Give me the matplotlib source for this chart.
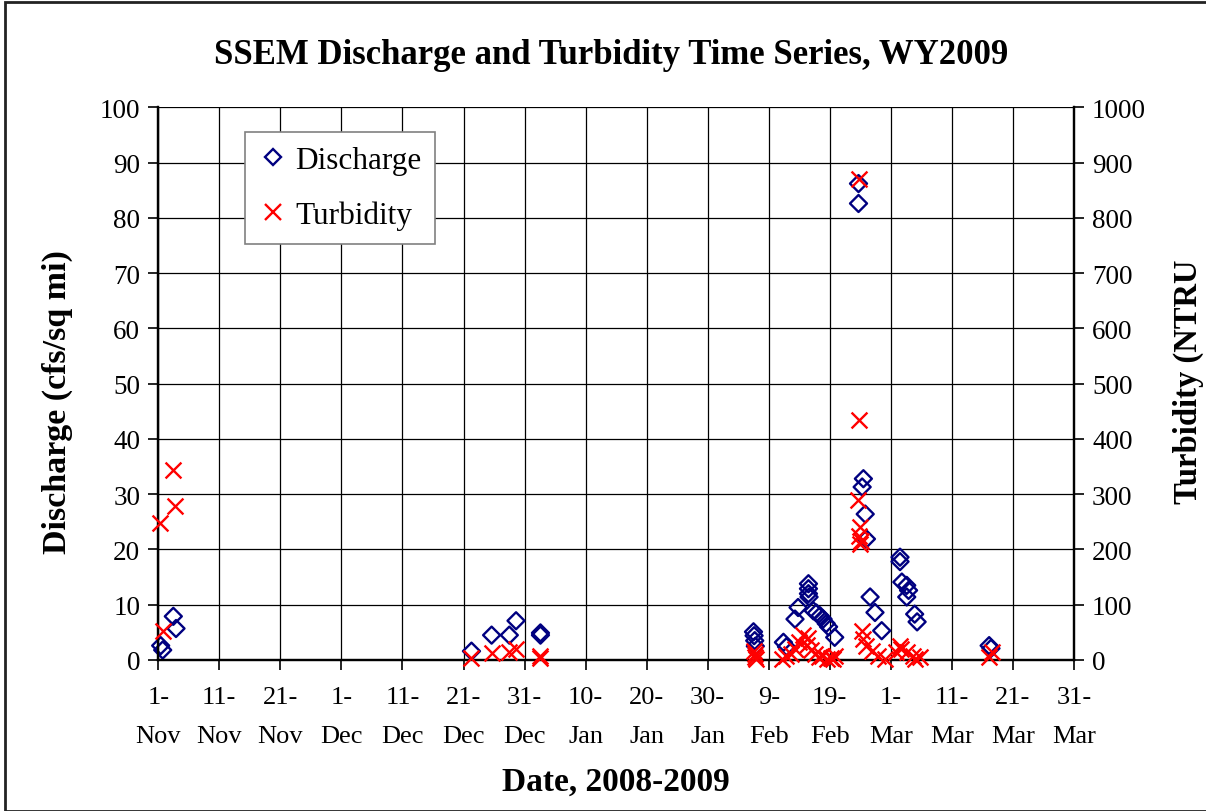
import matplotlib
matplotlib.use("Agg")
import matplotlib.pyplot as plt
from matplotlib.patches import Rectangle
from matplotlib.lines import Line2D
import datetime as dt

plt.rcParams['font.family'] = ['Liberation Serif', 'DejaVu Serif']

# ---- data (day offsets from 2008-11-01, values) ----
start = dt.datetime(2008, 11, 1)

discharge_days = [0.39, 0.72, 2.46, 2.9,
                  51.3, 54.6, 57.5, 58.6, 62.6, 62.6,
                  97.5, 97.6, 97.7, 97.8,
                  102.4, 102.9, 104.3, 104.8,
                  106.5, 106.5, 106.5, 106.6,
                  107.3, 107.8, 108.4, 108.9, 109.4, 109.8, 110.8,
                  114.7, 114.7, 115.5, 115.3, 115.8, 116.0,
                  116.6, 117.4, 118.5,
                  121.5, 121.5, 121.8, 122.6, 122.9, 122.6, 123.9, 124.3,
                  136.1, 136.4]
discharge_vals = [2.6, 1.8, 7.9, 5.7,
                  1.6, 4.5, 4.5, 7.1, 4.5, 4.9,
                  5.1, 4.4, 3.5, 2.5,
                  3.2, 2.4, 7.4, 9.5,
                  13.8, 12.9, 12.0, 11.4,
                  8.9, 8.5, 8.0, 7.4, 6.6, 6.0, 4.1,
                  86.2, 82.6, 32.8, 31.3, 26.4, 21.9,
                  11.4, 8.6, 5.3,
                  18.6, 17.8, 14.1, 13.5, 12.6, 11.4, 8.3, 6.9,
                  2.6, 2.1]

turbidity_days = [0.28, 0.82, 2.46, 2.74,
                  51.3, 54.6, 57.5, 58.6, 62.6, 62.6,
                  97.6, 97.7, 97.8, 97.9,
                  102.2, 102.8, 103.6, 104.3, 104.9, 105.6, 106.5, 106.3,
                  107.0, 107.6, 108.2, 108.8, 109.5, 110.2, 110.8, 110.5,
                  114.7, 114.7, 114.6, 115.0, 114.8, 115.1, 114.9,
                  115.2, 115.4, 116.0, 116.9, 117.9, 119.0,
                  120.9, 121.5, 121.7, 122.6, 123.7, 124.0, 124.8,
                  136.0, 136.5]
turbidity_vals = [248, 53, 343, 278,
                  3, 13, 14, 19, 4, 8,
                  17, 10, 5, 2,
                  2, 8, 11, 20, 32, 45, 40, 28,
                  18, 11, 5, 8, 2, 3, 8, 1,
                  871, 434, 289, 241, 225, 215, 210,
                  53, 38, 26, 17, 8, 2,
                  14, 26, 20, 14, 8, 2, 5,
                  5, 14]

y_left_ticks = list(range(0, 101, 10))
y_right_ticks = list(range(0, 1001, 100))

d_dates = [start + dt.timedelta(days=d) for d in discharge_days]
t_dates = [start + dt.timedelta(days=d) for d in turbidity_days]

W, H = 1206, 812
fig = plt.figure(figsize=(W / 100, H / 100), dpi=100)
fig.patches.append(Rectangle((5 / W, 0), 1.2, 1 - 3 / H, transform=fig.transFigure,
                             fill=False, edgecolor='#222222', linewidth=2, zorder=0))

ax = fig.add_axes([158.3 / W, 1 - 661 / H, (1074 - 158.3) / W, (661 - 108.3) / H])
ax2 = ax.twinx()

ax.set_xlim(start, start + dt.timedelta(days=150))
ax.set_ylim(0, 100)
ax2.set_ylim(0, 1000)

xticks = [start + dt.timedelta(days=10 * i) for i in range(16)]
ax.set_xticks(xticks)
ax.set_xticklabels([f"{t.day}-\n{t:%b}" for t in xticks], linespacing=2.0)
ax.set_yticks(y_left_ticks)
ax.set_yticklabels([str(v) for v in y_left_ticks])
ax2.set_yticks(y_right_ticks)
ax2.set_yticklabels([str(v) for v in y_right_ticks])

ax.grid(True, color='black', linewidth=0.9)
ax.set_axisbelow(True)

for a in (ax, ax2):
    a.spines['top'].set_visible(False)
    a.spines['left'].set_linewidth(1.6)
    a.spines['right'].set_linewidth(1.6)
    a.spines['bottom'].set_linewidth(1.6)
ax.tick_params(axis='y', direction='out', length=7, width=1.2, labelsize=19.5, pad=6)
ax.tick_params(axis='x', direction='out', length=7, width=1.2, labelsize=19, pad=12)
ax2.tick_params(axis='y', direction='out', length=7, width=1.2, labelsize=19.5, pad=6)

ax.scatter(d_dates, discharge_vals, marker='D', s=75, facecolors='none',
           edgecolors='#000080', linewidths=1.7, zorder=3, clip_on=False)
ax2.scatter(t_dates, turbidity_vals, marker='x', s=130, color='#FF0000',
            linewidths=1.7, zorder=4, clip_on=False)

handles = [Line2D([], [], marker='D', linestyle='none', markerfacecolor='none',
                  markeredgecolor='#000080', markeredgewidth=1.7, markersize=8),
           Line2D([], [], marker='x', linestyle='none', color='#FF0000',
                  markeredgewidth=1.7, markersize=11)]
leg = ax2.legend(handles, ['Discharge', 'Turbidity'], loc='upper left',
                 bbox_to_anchor=((245 - 158.3) / (1074 - 158.3), 1 - (133 - 108.3) / (661 - 108.3)),
                 fontsize=22.5, frameon=True, fancybox=False, edgecolor='#808080',
                 framealpha=1, handletextpad=0.25, labelspacing=0.8, borderpad=0.45,
                 handlelength=0.9, borderaxespad=0)
leg.get_frame().set_linewidth(1.2)

fig.text((213 + 1010) / 2 / W, 1 - 55 / H, 'SSEM Discharge and Turbidity Time Series, WY2009',
         ha='center', va='center', fontsize=25, fontweight='bold')
fig.text(57 / W, 1 - 402 / H, 'Discharge (cfs/sq mi)', rotation=90, ha='center', va='center',
         fontsize=24.5, fontweight='bold')
fig.text(1188 / W, 1 - 382 / H, 'Turbidity (NTRU', rotation=90, ha='center', va='center',
         fontsize=23.5, fontweight='bold')
fig.text(616 / W, 1 - 782 / H, 'Date, 2008-2009', ha='center', va='center',
         fontsize=24, fontweight='bold')

fig.savefig('out.png', dpi=100)
